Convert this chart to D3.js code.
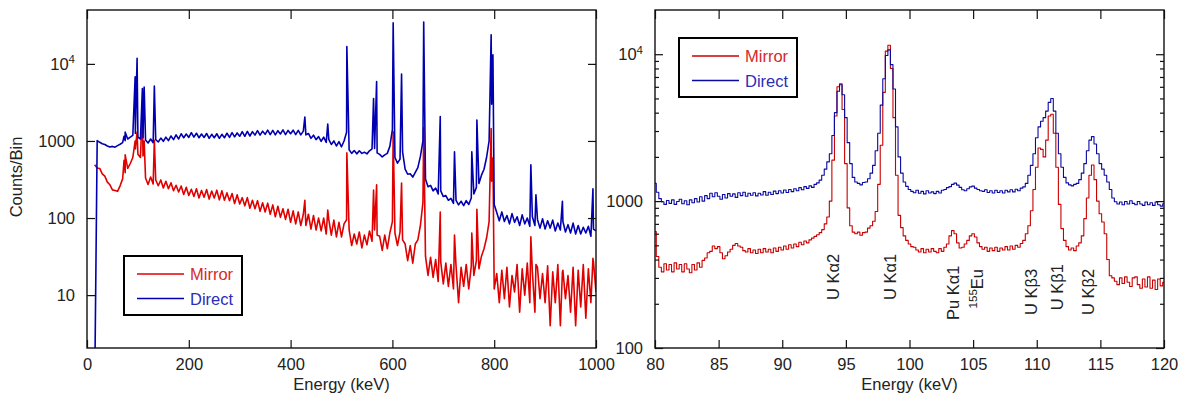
<!DOCTYPE html>
<html><head><meta charset="utf-8">
<script src="https://cdn.jsdelivr.net/npm/d3@7"></script>
<style>
body{margin:0;background:#fff}
svg{display:block}
text{font-family:"Liberation Sans",Arial,Helvetica,sans-serif;fill:#222}
</style>
</head><body>
<svg id="c" width="1182" height="398"></svg>
<script>
// ---------- LEFT PANEL DATA (full spectrum, 5 keV bins starting at 15 keV) ----------
const leftBinStart = 15, leftBinWidth = 5;
const leftDirect = [
  0.5,1010,960,920,900,860,835,850,830,870,
  905,950,1010,1060,1120,1180,1250,1120,1060,1100,
  1030,940,1060,950,1040,970,1090,990,1120,1010,
  1160,1040,1200,1060,1240,1100,1230,1110,1280,1120,
  1260,1100,1230,1110,1250,1080,1220,1100,1240,1080,
  1220,1100,1260,1110,1280,1130,1270,1150,1320,1150,
  1330,1160,1320,1190,1360,1190,1340,1220,1380,1210,
  1370,1200,1360,1230,1390,1210,1370,1240,1380,1210,
  1370,1200,1340,1200,1250,1080,1190,1040,1140,990,
  1120,960,1050,900,1000,860,980,840,1000,1300,
  770,690,750,680,745,690,715,680,745,790,
  800,700,670,620,660,690,850,1400,610,515,
  580,720,430,370,375,340,390,450,630,1000,
  320,255,265,225,245,205,225,190,196,170,
  180,155,170,148,165,145,168,150,182,205,
  250,280,360,430,610,1000,3000,150,118,92,
  120,90,108,84,114,88,104,80,110,84,
  100,78,104,80,96,74,98,72,92,74,
  94,68,86,70,90,66,82,64,86,62,
  80,62,76,64,78,58,72,68
];
const leftMirror = [
  490,445,440,375,350,292,270,232,228,222,
  262,322,388,440,510,610,790,670,610,640,
  330,272,340,276,312,262,312,246,300,240,
  286,226,266,218,260,202,250,196,236,190,
  240,182,228,186,234,176,224,182,230,172,
  226,170,212,168,208,154,200,152,184,144,
  184,134,170,132,168,122,158,120,156,112,
  148,104,142,102,132,96,130,88,124,84,
  120,80,112,80,112,72,108,70,100,68,
  100,62,96,60,94,57,88,57,84,95,
  70,44,62,46,66,41,60,45,68,50,
  70,60,58,38,60,40,64,90,64,44,
  66,52,46,28,44,26,46,52,80,160,
  32,18,31,17,29,15,27,14,26,13,
  25,12,24,8,23,13,25,12,24,18,
  28,22,32,40,55,90,300,12,19,8,
  21,9,23,7,18,11,25,6,22,10,
  26,8,20,6,23,9,19,8,24,4,
  20,8,25,4,21,9,18,6,23,4,
  21,7,25,5,22,8,27,11
];
// narrow gamma / x-ray lines (keV) and their peak heights
const peakEnergy = [72.8,75.0,94.6,98.4,108.8,112.3,132.3,428,473,510.5,563,569,601.5,618,661.5,694,722,756,766,794,797.5,872,882,934,994];
const peakDirect = [1150,1300,6800,11800,4800,5000,5150,2040,1660,16800,3550,5900,34000,7400,35000,2070,725,725,1870,23800,13100,490,200,165,240];
const peakMirror = [560,660,1000,1300,2700,1000,1020,170,127,700,230,270,1320,285,1480,120,60,64,130,1450,600,57,25,20,30];
const leftXTicks = [0,200,400,600,800,1000];
const leftYTicks = [10,100,1000,10000];

// ---------- RIGHT PANEL DATA (80-120 keV, 0.2 keV bins) ----------
const rightBinStart = 80, rightBinWidth = 0.2;
const rightDirect = [
  1320,1150,1040,990,950,1010,965,1020,950,995,
  1030,960,1005,945,1020,975,1040,985,1070,1000,
  1090,1040,1130,1070,1140,1080,1030,1110,1050,1125,
  1080,1120,1060,1140,1090,1150,1080,1130,1095,1140,
  1085,1130,1100,1160,1095,1150,1110,1170,1125,1175,
  1135,1190,1145,1200,1160,1215,1175,1235,1195,1255,
  1220,1270,1240,1300,1330,1390,1500,1650,1850,2100,
  2800,4000,5600,6200,5300,3700,2500,1800,1450,1350,
  1320,1290,1340,1350,1420,1550,1750,2200,2900,4500,
  6800,9800,10700,8500,5800,3200,2000,1550,1350,1260,
  1200,1165,1140,1185,1130,1165,1120,1175,1135,1155,
  1125,1165,1135,1185,1200,1235,1255,1300,1325,1285,
  1240,1195,1175,1215,1250,1265,1225,1200,1175,1165,
  1195,1145,1175,1135,1185,1145,1175,1135,1185,1155,
  1195,1155,1205,1175,1225,1250,1320,1500,1750,2100,
  2700,3200,3500,3700,4100,4700,5000,4100,2900,2100,
  1700,1450,1330,1290,1270,1300,1320,1400,1550,1800,
  2200,2600,2750,2450,2100,1800,1650,1500,1350,1200,
  1050,990,955,985,945,995,955,1005,965,945,
  995,955,935,985,945,975,935,985,945,925,
  960
];
const rightMirror = [
  620,420,355,330,375,340,370,330,380,345,
  370,330,375,345,325,370,340,380,355,395,
  410,445,455,495,475,490,445,405,425,450,
  470,500,515,495,485,460,450,475,445,465,
  440,470,445,475,450,470,445,480,455,485,
  465,495,470,505,480,510,490,525,505,535,
  520,545,560,575,590,610,640,700,780,1000,
  1900,3800,6000,6300,4200,1800,900,680,615,600,
  615,585,610,615,655,680,730,850,1300,2400,
  5500,10500,11500,8000,3700,1500,800,660,580,540,
  510,490,485,465,450,475,445,470,450,475,
  455,445,475,455,485,510,580,630,600,520,
  480,485,510,540,580,600,570,520,490,470,
  485,455,480,460,485,455,480,465,490,465,
  495,470,500,485,515,540,600,680,860,1200,
  1700,2300,2250,2000,2600,3800,3900,2900,1700,950,
  650,540,490,465,480,460,495,520,580,760,
  1050,1500,1760,1400,1000,820,720,600,400,310,
  300,285,270,300,275,305,280,262,300,305,
  270,255,295,260,305,255,290,250,295,265,
  280
];
const rightXTicks = [80,85,90,95,100,105,110,115,120];
const rightYMajor = [100,1000,10000];
const rightYMinor = [200,300,400,500,600,700,800,900,2000,3000,4000,5000,6000,7000,8000,9000];
// peak annotations: label, superscript prefix, energy of text baseline, counts at text start
const annoLabel = ["U Kα2","U Kα1","Pu Kα1","Eu","U Kβ3","U Kβ1","U Kβ2"];
const annoSup   = ["","","","155","","",""];
const annoEnergy = [94.49,98.95,103.9,105.76,110.03,112.08,114.5];
const annoCounts = [212,212,155,186,168,181,168];

const seriesNames = ["Mirror","Direct"];

// ---------- DRAWING ----------
const svg = d3.select("#c");
const FS = 16.5;

function binsOf(start, width, arr){ return arr.map((v,i)=>({e:start+i*width, v})); }

function supTen(sel){
  sel.each(function(d){
    const t = d3.select(this);
    if (d === 10000){
      t.text("10");
      t.append("tspan").attr("dy","-0.55em").attr("font-size",FS*0.7).text("4");
    }
  });
}

function panel(o){
  const g = svg.append("g");
  const x = d3.scaleLinear().domain(o.xDomain).range([o.x0,o.x1]);
  const y = d3.scaleLog().domain(o.yDomain).range([o.y1,o.y0]);
  const cid = "clip"+o.id;
  svg.append("defs").append("clipPath").attr("id",cid)
    .append("rect").attr("x",o.x0).attr("y",o.y0).attr("width",o.x1-o.x0).attr("height",o.y1-o.y0);

  const line = d3.line().x(d=>x(d.e)).y(d=>y(d.v)).curve(o.curve);
  const lines = g.append("g").attr("clip-path",`url(#${cid})`);
  o.series.forEach(s=>{
    lines.append("path").datum(s.data).attr("fill","none").attr("stroke",s.color)
      .attr("stroke-width",o.sw).attr("stroke-linejoin","round").attr("d",line);
  });

  const tickStroke = sel=>{ sel.select(".domain").remove(); sel.selectAll(".tick line").attr("stroke","#111").attr("stroke-width",1.2); };
  const bx = g.append("g").attr("transform",`translate(0,${o.y1})`)
    .call(d3.axisBottom(x).tickValues(o.xTicks).tickSize(-8).tickPadding(10).tickSizeOuter(0).tickFormat(d3.format("d")));
  tickStroke(bx);
  bx.selectAll("text").attr("font-size",FS).attr("fill","#222");
  const tx = g.append("g").attr("transform",`translate(0,${o.y0})`)
    .call(d3.axisTop(x).tickValues(o.xTicks).tickSize(-9).tickSizeOuter(0).tickFormat(""));
  tickStroke(tx);

  const ly = g.append("g").attr("transform",`translate(${o.x0},0)`)
    .call(d3.axisLeft(y).tickValues(o.yMajor).tickSize(-8).tickPadding(12).tickSizeOuter(0).tickFormat(d3.format("d")));
  tickStroke(ly);
  ly.selectAll("text").attr("font-size",FS).attr("fill","#222").call(supTen);
  const ry = g.append("g").attr("transform",`translate(${o.x1},0)`)
    .call(d3.axisRight(y).tickValues(o.yMajor).tickSize(-8).tickSizeOuter(0).tickFormat(""));
  tickStroke(ry);
  if (o.yMinor){
    const lm = g.append("g").attr("transform",`translate(${o.x0},0)`)
      .call(d3.axisLeft(y).tickValues(o.yMinor).tickSize(-4).tickSizeOuter(0).tickFormat(""));
    tickStroke(lm);
    const rm = g.append("g").attr("transform",`translate(${o.x1},0)`)
      .call(d3.axisRight(y).tickValues(o.yMinor).tickSize(-4).tickSizeOuter(0).tickFormat(""));
    tickStroke(rm);
  }
  g.append("rect").attr("x",o.x0).attr("y",o.y0).attr("width",o.x1-o.x0).attr("height",o.y1-o.y0)
    .attr("fill","none").attr("stroke","#111").attr("stroke-width",1.4);

  g.append("text").attr("x",(o.x0+o.x1)/2).attr("y",390).attr("text-anchor","middle")
    .attr("font-size",FS).text("Energy (keV)");

  const L = o.legend;
  const lg = g.append("g").attr("transform",`translate(${L.x},${L.y})`);
  lg.append("rect").attr("width",118).attr("height",59).attr("fill","#fff").attr("stroke","#000").attr("stroke-width",2);
  o.series.forEach((s,i)=>{
    const yy = 18 + i*24.5;
    lg.append("line").attr("x1",13).attr("x2",60).attr("y1",yy).attr("y2",yy).attr("stroke",s.color).attr("stroke-width",1.3);
    lg.append("text").attr("x",66).attr("y",yy+6).attr("font-size",FS).style("fill",s.textColor).text(s.name);
  });
  return {g,x,y};
}

function withPeaks(base, peaks){
  return base.concat(peaks).sort((a,b)=>a.e-b.e);
}
const leftDirectData = withPeaks(binsOf(leftBinStart,leftBinWidth,leftDirect), peakEnergy.map((e,i)=>({e, v:peakDirect[i]})));
const leftMirrorData = withPeaks(binsOf(leftBinStart,leftBinWidth,leftMirror), peakEnergy.map((e,i)=>({e, v:peakMirror[i]})));

panel({
  id:"L", x0:87, x1:596, y0:10, y1:348,
  xDomain:[0,1000], yDomain:[2.06,50000],
  xTicks:leftXTicks, yMajor:leftYTicks, yMinor:null,
  curve:d3.curveLinear, sw:1.6,
  series:[
    {name:seriesNames[0], data:leftMirrorData, color:"#e00000", textColor:"#d42a2a"},
    {name:seriesNames[1], data:leftDirectData, color:"#0000b0", textColor:"#2c2cb8"}
  ],
  legend:{x:124,y:256}
});

const R = panel({
  id:"R", x0:655, x1:1164, y0:10, y1:348,
  xDomain:[80,120], yDomain:[100,20000],
  xTicks:rightXTicks, yMajor:rightYMajor, yMinor:rightYMinor,
  curve:d3.curveStep, sw:1.1,
  series:[
    {name:seriesNames[0], data:binsOf(rightBinStart,rightBinWidth,rightMirror), color:"#c80000", textColor:"#d42a2a"},
    {name:seriesNames[1], data:binsOf(rightBinStart,rightBinWidth,rightDirect), color:"#0a0aa0", textColor:"#2c2cb8"}
  ],
  legend:{x:679,y:38}
});

svg.append("text").attr("transform","translate(22,177) rotate(-90)").attr("text-anchor","middle")
  .attr("font-size",FS).text("Counts/Bin");

annoLabel.forEach((lab,i)=>{
  const t = svg.append("text")
    .attr("transform",`translate(${R.x(annoEnergy[i])},${R.y(annoCounts[i])}) rotate(-90)`)
    .attr("font-size",FS);
  if (annoSup[i]){
    t.append("tspan").attr("font-size",FS*0.7).attr("dy","-0.5em").text(annoSup[i]);
    t.append("tspan").attr("dy","0.35em").text(lab);
  } else t.text(lab);
});
</script>
</body></html>
